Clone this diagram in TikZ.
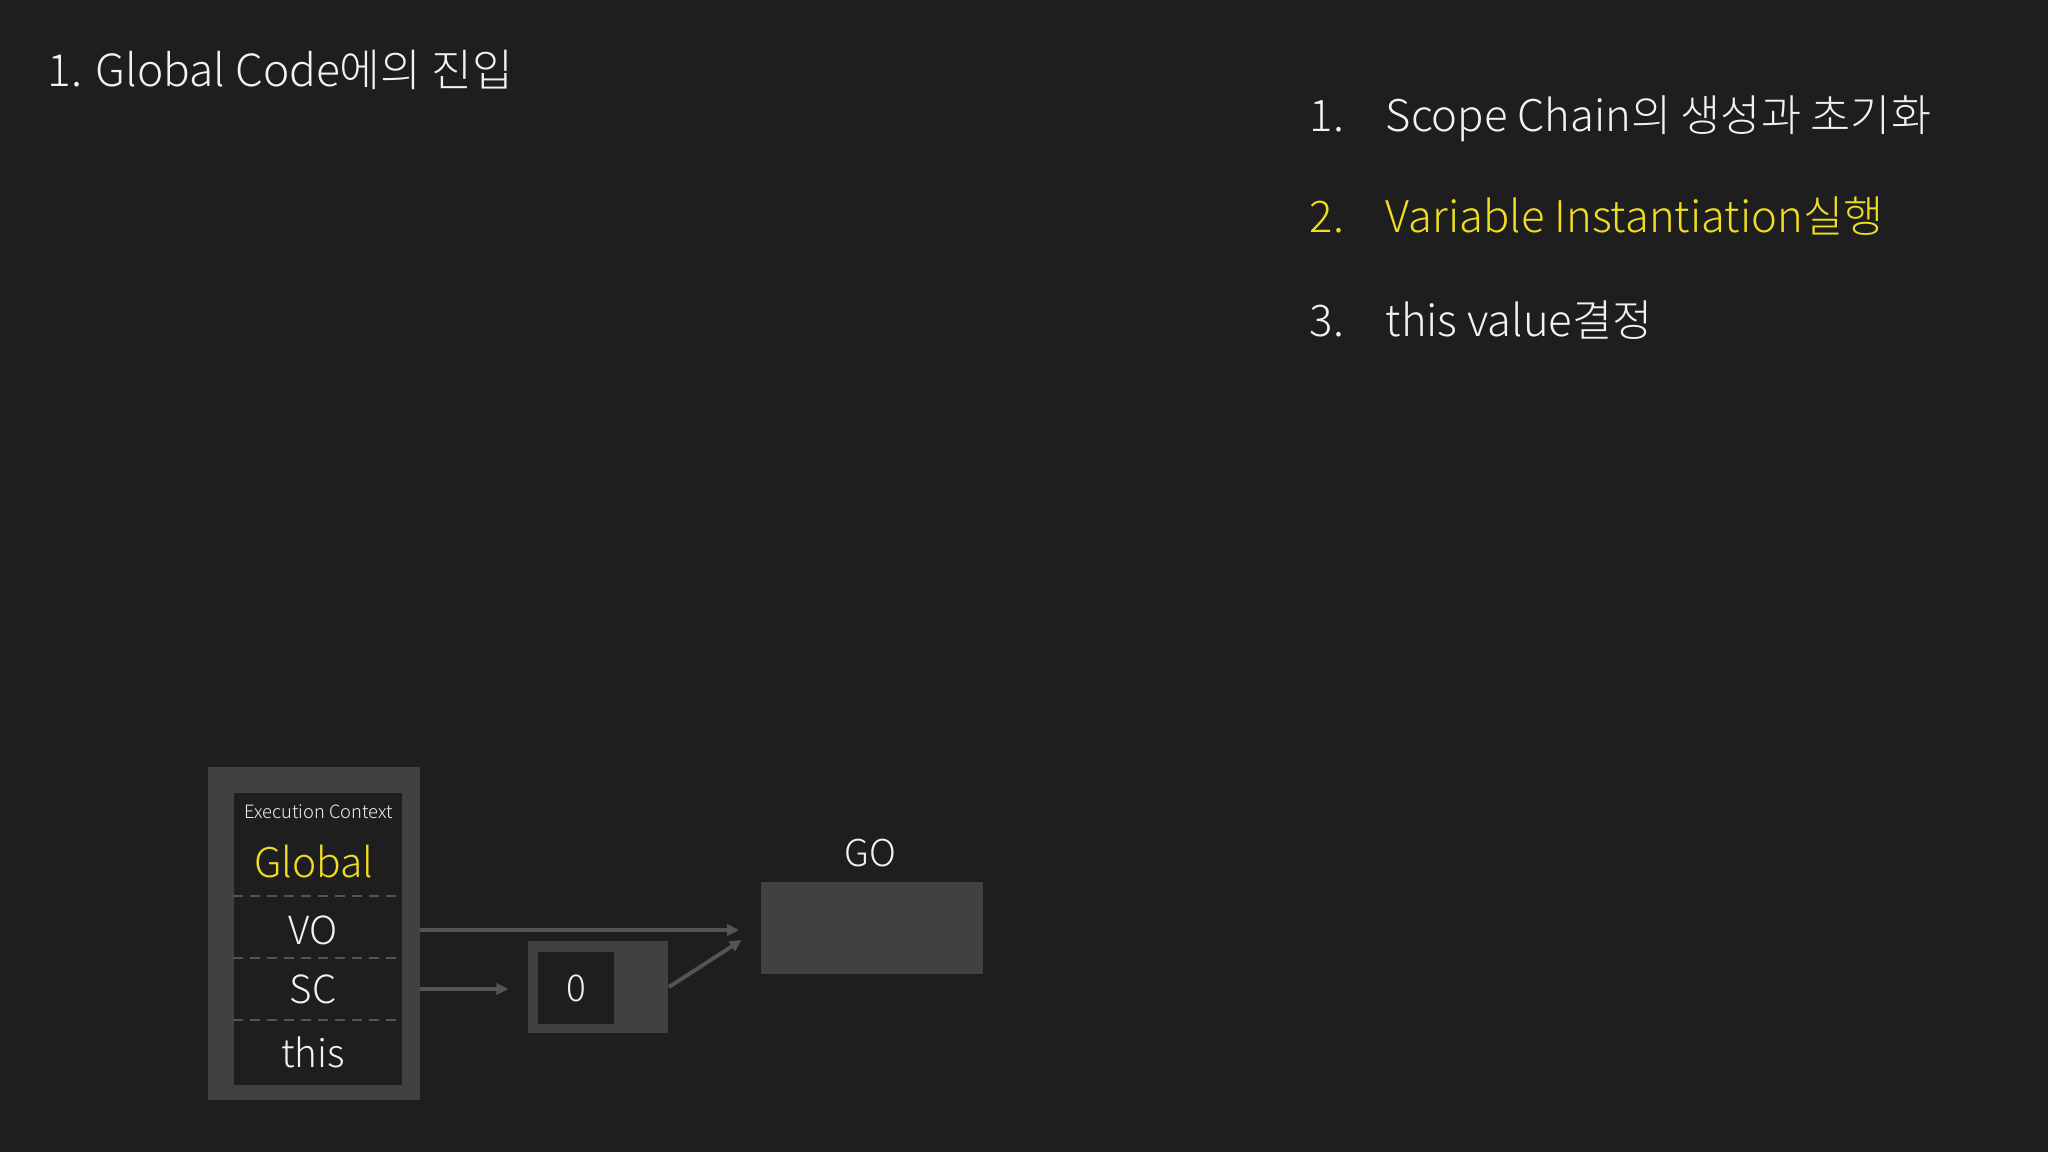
\documentclass[tikz,border=0pt]{standalone}
\usepackage{fontspec}
\IfFontExistsTF{Noto Sans CJK KR Light}
  {\setmainfont{Noto Sans CJK KR Light}}
  {\setmainfont{Noto Sans CJK KR}}
\usetikzlibrary{positioning, arrows.meta}
\definecolor{bg}{HTML}{1E1E1F}
\definecolor{fg}{HTML}{F2F2F2}
\definecolor{boxgray}{HTML}{414141}
\definecolor{linegray}{HTML}{545454}
\definecolor{hilite}{HTML}{EEDD22}
\newcommand\stepfont{\fontsize{12.4}{15}\selectfont}

\begin{document}
\begin{tikzpicture}[x=0.01cm, y=-0.01cm,
  txt/.style={text=fg, inner sep=0pt},
  hl/.style={text=hilite, inner sep=0pt},
  slot/.style={fill=boxgray, inner sep=0pt},
  hole/.style={fill=bg, inner sep=0pt},
  dashline/.style={draw=linegray, line width=0.8pt, dash pattern=on 0.1cm off 0.07cm},
  conn/.style={draw=linegray, line width=1.1pt, -{Triangle[length=0.12cm,width=0.11cm]}}]
\useasboundingbox (0,0) rectangle (2048,1152);
\fill[bg] (0,0) rectangle (2048,1152);
% heading
\node[txt, anchor=base west, font=\fontsize{12.6}{15}\selectfont] (title) at (47,87) {1. Global Code에의 진입};
% steps
\node[txt, anchor=base west, font=\stepfont] (n1) at (1309,132) {1.};
\node[txt, anchor=base west, font=\stepfont] (s1) at (1385,132) {Scope Chain의 생성과 초기화};
\node[hl, anchor=base west, font=\stepfont] (n2) at (1309,233) {2.};
\node[hl, anchor=base west, font=\stepfont] (s2) at (1385,233) {Variable Instantiation실행};
\node[txt, anchor=base west, font=\stepfont] (n3) at (1309,337) {3.};
\node[txt, anchor=base west, font=\stepfont] (s3) at (1385,337) {this value결정};
% execution context
\node[slot, minimum width=2.11cm, minimum height=3.33cm] (ec) at (314,933.5) {};
\node[hole, minimum width=1.68cm, minimum height=2.92cm] (ecin) at (317.7,939) {};
\node[txt, font=\fontsize{5.2}{6}\selectfont] (ectitle) at (318.6,812) {Execution Context};
\node[hl, font=\fontsize{11.6}{14}\selectfont] (global) at (314,862) {Global};
\node[txt, font=\fontsize{11}{13}\selectfont] (vo) at (313,930) {VO};
\node[txt, font=\fontsize{11}{13}\selectfont] (sc) at (313,989) {SC};
\node[txt, font=\fontsize{11}{13}\selectfont] (this) at (313,1052) {this};
\foreach \y in {896,958,1020}
  \draw[dashline] (ecin.west |- 0,\y) -- (ecin.east |- 0,\y);
% scope chain list
\node[slot, minimum width=1.405cm, minimum height=0.92cm] (zero) at (598,987) {};
\node[hole, minimum width=0.765cm, minimum height=0.72cm] (zeroin) at (576,988) {};
\node[txt, font=\fontsize{10.5}{12}\selectfont] (zeroval) at (zeroin) {0};
% global object
\node[slot, minimum width=2.22cm, minimum height=0.92cm] (go) at (872,928) {};
\node[txt, anchor=base, font=\fontsize{10.5}{12}\selectfont] (golabel) at (870,866) {GO};
% links
\draw[conn, shorten >=0.21cm] (vo -| ec.east) -- (vo -| go.west);
\draw[conn, shorten >=0.185cm] (sc -| ec.east) -- (sc -| zero.west);
\draw[conn, shorten >=0.22cm] (zero.east) -- (go.west);
\end{tikzpicture}
\end{document}
